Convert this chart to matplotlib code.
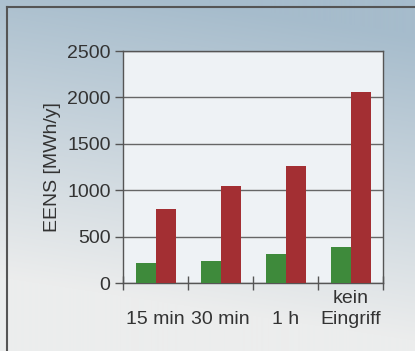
import numpy as np
import matplotlib.pyplot as plt
from matplotlib.lines import Line2D

categories = ['\n15 min', '\n30 min', '\n1 h', 'kein\nEingriff']
green_vals = [220, 235, 310, 385]
red_vals = [800, 1040, 1265, 2060]
yticks = [0, 500, 1000, 1500, 2000, 2500]

plt.rcParams['font.family'] = ['Liberation Sans', 'DejaVu Sans']

fig = plt.figure(figsize=(4.15, 3.51), dpi=100)

# background gradient (blue-grey at top, pale grey at bottom)
bg = fig.add_axes([0, 0, 1, 1])
h, w = 351, 415
yy, xx = np.mgrid[0:h, 0:w]
s = yy / h + 0.18 * (1 - xx / w) - 0.1
s = np.clip(s * 1.15, 0, 1)
top = np.array([166, 188, 204]) / 255
bot = np.array([236, 237, 237]) / 255
img = top + (bot - top) * s[..., None]
bg.imshow(img, aspect='auto', extent=[0, 1, 0, 1])
bg.set_axis_off()
bg.set_xlim(0, 1)
bg.set_ylim(0, 1)

# frame lines top/left
fx = 7 / w
fy = 1 - 7 / h
fig.add_artist(Line2D([fx, 1], [fy, fy], color='#555555', lw=1.5, transform=fig.transFigure))
fig.add_artist(Line2D([fx, fx], [0, fy], color='#555555', lw=1.5, transform=fig.transFigure))

ax = fig.add_axes([123 / w, 1 - 283 / h, 260 / w, 232 / h])
ax.set_facecolor('#eef2f5')

x = np.arange(len(categories))
bw = 0.31
ax.bar(x - 0.145, green_vals, bw, color='#3e8a3b', zorder=3)
ax.bar(x + 0.165, red_vals, bw, color='#a32f33', zorder=3)

ax.set_xlim(-0.5, 3.5)
ax.set_ylim(0, 2500)
ax.set_yticks(yticks)
ax.yaxis.grid(True, color='#666666', lw=1.0, zorder=1)
ax.set_axisbelow(True)

ax.set_xticks(np.arange(-0.5, 4.0, 1.0))
ax.set_xticklabels([])
ax.set_xticks(x, minor=True)
ax.set_xticklabels(categories, minor=True, fontsize=14, linespacing=1.3, color='#333333')
ax.tick_params(axis='x', which='major', direction='inout', length=10, width=1, color='#555555')
ax.tick_params(axis='x', which='minor', length=0, pad=5)
ax.tick_params(axis='y', direction='out', length=6, width=1, color='#555555',
               labelsize=14, labelcolor='#333333', pad=3)

for sp in ax.spines.values():
    sp.set_color('#555555')
    sp.set_linewidth(1.0)

ax.set_ylabel('EENS [MWh/y]', fontsize=14, color='#333333')
ax.yaxis.set_label_coords(-0.24, 0.5)

fig.savefig('out.png', dpi=100)
